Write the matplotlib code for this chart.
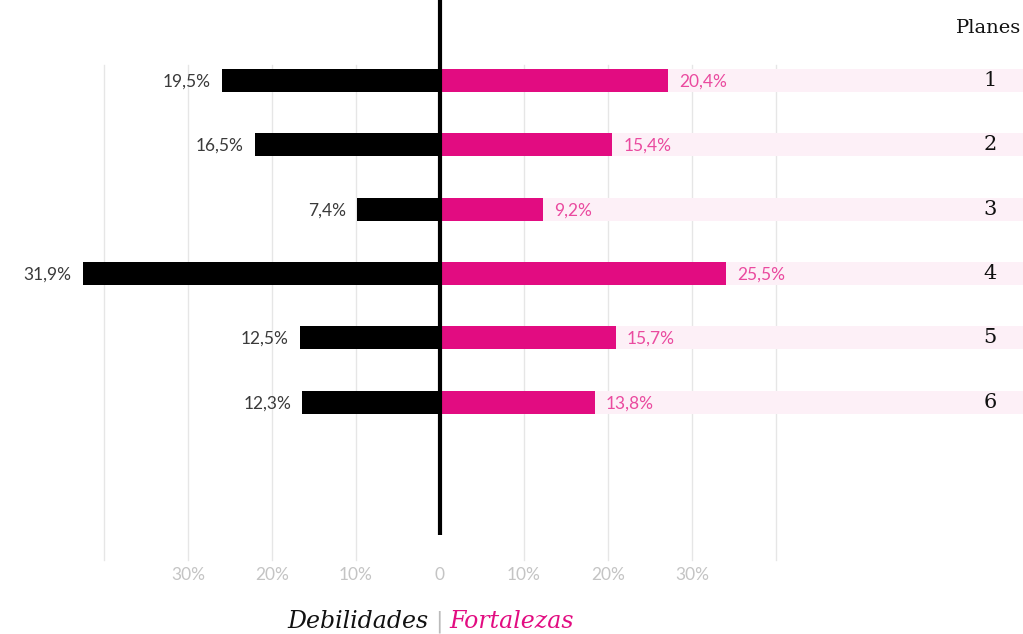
import matplotlib
matplotlib.use("Agg")
import matplotlib.pyplot as plt

# Data: share of weaknesses / strengths per plan (%)
planes = ["1", "2", "3", "4", "5", "6"]
debilidades = [19.5, 16.5, 7.4, 31.9, 12.5, 12.3]
fortalezas = [20.4, 15.4, 9.2, 25.5, 15.7, 13.8]
tick_labels = ["30%", "20%", "10%", "0", "10%", "20%", "30%"]

PINK = "#e20c81"
PINK_TXT = "#ea4a9f"
BAND = "#fdf0f7"

fig = plt.figure(figsize=(10.23, 6.34), dpi=100)
ax = fig.add_axes([0, 0, 1, 1])

xmin, xmax = -440 / 11.2, 583 / 11.2
ytop, ybot = -80.5 / 64.3, (634 - 80.5) / 64.3
ax.set_xlim(xmin, xmax)
ax.set_ylim(ybot, ytop)
ax.axis("off")

rows = list(range(len(planes)))
h = 23 / 64.3

# grid lines (spaced 7.5 units, labelled as 10% steps like the original)
step = 7.5
for k in [-4, -3, -2, -1, 1, 2, 3, 4]:
    ax.plot([k * step, k * step], [-0.24, 7.457], color="#e6e6e6", lw=1, zorder=0)

# background bands on the right
ax.barh(rows, [xmax] * len(rows), left=0, height=h, color=BAND, zorder=1)

ax.barh(rows, [-d for d in debilidades], height=h, color="black", zorder=2)
ax.barh(rows, fortalezas, height=h, color=PINK, zorder=2)

ax.plot([0, 0], [ytop, 7.068], color="black", lw=3, zorder=3, solid_capstyle="butt")

lbl = dict(fontsize=12.5, family="Lato")
for i, (d, f) in enumerate(zip(debilidades, fortalezas)):
    ax.text(-d - 1.0, i + 0.02, f"{d:.1f}%".replace(".", ","), ha="right", va="center",
            color="#3a3a3a", **lbl)
    ax.text(f + 1.0, i + 0.02, f"{f:.1f}%".replace(".", ","), ha="left", va="center",
            color=PINK_TXT, **lbl)
    ax.text(550 / 11.2, i, planes[i], ha="center", va="center",
            fontsize=15, color="#111111", family="DejaVu Serif")

for k, lab in zip(range(-3, 4), tick_labels):
    ax.text(k * step, 7.69, lab, ha="center", va="center", color="#c4c4c4", **lbl)

fig.text(1021 / 1023, 1 - 28 / 634, "Planes", ha="right", va="center",
         fontsize=14, color="#111111", family="DejaVu Serif")

ly = 1 - 622 / 634
fig.text(428 / 1023, ly, "Debilidades", ha="right", va="center", fontsize=17,
         style="italic", color="#111111", family="DejaVu Serif")
fig.text(438.5 / 1023, ly, "|", ha="center", va="center", fontsize=16,
         color="#bbbbbb", family="DejaVu Serif")
fig.text(449 / 1023, ly, "Fortalezas", ha="left", va="center", fontsize=17,
         style="italic", color=PINK, family="DejaVu Serif")

fig.savefig("out.png", dpi=100)
